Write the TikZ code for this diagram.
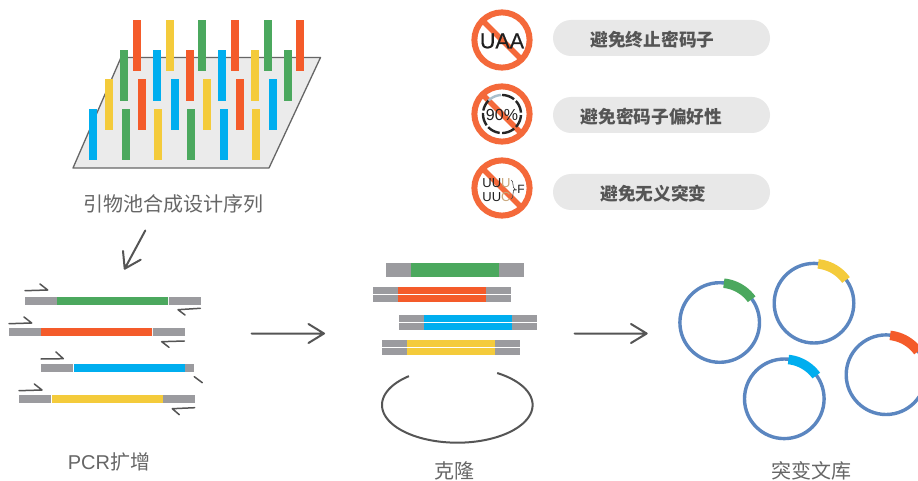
\documentclass[tikz,border=0pt]{standalone}
\usepackage{fontspec}
\setmainfont{Noto Sans CJK SC}
\newfontfamily\latinfont{Liberation Sans}
\newfontfamily\latinheavy[FakeBold=0.4]{Liberation Sans}
\definecolor{cgreen}{HTML}{4BA85E}
\definecolor{corange}{HTML}{F45B2A}
\definecolor{cyellow}{HTML}{F4CB3B}
\definecolor{cblue}{HTML}{00AEEF}
\definecolor{cgrey}{HTML}{9B9B9F}
\definecolor{cring}{HTML}{5B86C0}
\definecolor{cban}{HTML}{F4693A}
\definecolor{cink}{HTML}{555555}
\definecolor{ctan}{HTML}{C9A67A}
\definecolor{cpale}{HTML}{A9BFCC}
\tikzset{
  caption/.style={font=\fontsize{20}{24}\selectfont, text=black!60, inner sep=0pt},
  pilltext/.style={font=\fontsize{17.7}{21}\bfseries\selectfont, text=cink, inner sep=0pt},
  pill/.style={fill=black!9, draw=none, rounded corners=18pt},
  stroke/.style={draw=cink, line width=2pt, line cap=round, line join=round},
  thinstroke/.style={draw=cink, line width=1.5pt, line cap=round, line join=round},
  banring/.style={draw=cban, line width=6pt},
  plasmid/.style={draw=cring, line width=3.4pt},
  insert/.style={line width=9.5pt},
  icontext/.style={text=black!88, inner sep=0pt},
}
% one coloured pillar on the synthesis plate
\newcommand{\pillar}[4]{\fill[#4] (#1,#2) rectangle ++(8,#3);}
% grey-coloured-grey strand: y top, y bottom, x stops, colour
\newcommand{\strand}[7]{%
  \fill[cgrey] (#3,#1) rectangle (#4,#2);
  \fill[#7] (#4,#1) rectangle (#5,#2);
  \fill[cgrey] (#5,#1) rectangle (#6,#2);}
% plasmid ring with its coloured insert
\newcommand{\ringwith}[3]{%
  \draw[plasmid] (#1,#2) circle[radius=39.8pt];
  \draw[insert,draw=#3] plot[domain=84:36,samples=24,smooth] ({#1+39.5*cos(\x)},{#2-39.5*sin(\x)});}
% prohibition sign, laid under its content
\newcommand{\bansign}[2]{%
  \draw[banring] (#1,#2) circle[radius=27.6pt];
  \draw[draw=cban, line width=5.6pt] (#1-19.5,#2-19.5) -- (#1+19.5,#2+19.5);}
\begin{document}
\begin{tikzpicture}[x=1pt,y=-1pt]
\path[use as bounding box] (0,0) rectangle (918,481);
\clip (0,0) rectangle (918,481);
\fill[white] (0,0) rectangle (918,481);

% synthesis plate
\draw[fill=black!8, draw=black!60, line width=1.3pt, line join=round]
  (73,168) -- (269,168) -- (320.5,57.5) -- (121,57.5) -- cycle;
\foreach \px/\pc in {133/corange,166/cyellow,198/cgreen,231/corange,264/cgreen,296/corange}
  {\pillar{\px}{20}{51}{\pc}}
\foreach \px/\pc in {120/cgreen,153/cblue,186/corange,218/cblue,251/cyellow,284/cgreen}
  {\pillar{\px}{50}{51}{\pc}}
\foreach \px/\pc in {105/cyellow,138/corange,171/cblue,203/cyellow,236/corange,269/cblue}
  {\pillar{\px}{79}{51}{\pc}}
\foreach \px/\pc in {89/cblue,122/cgreen,154/cyellow,187/cgreen,220/cblue,252/cyellow}
  {\pillar{\px}{109}{51}{\pc}}
\node[caption] (platecap) at (173.5,203.5) {引物池合成设计序列};

% arrow from the plate down to PCR
\coordinate (a0s) at (145.3,230.5);
\coordinate (a0e) at (124.7,268.7);
\draw[stroke] (a0s) -- (a0e) (123,251) -- (a0e) -- (140.7,259.7);

% design rules
\fill[pill] (553,20) rectangle (770,56);
\fill[pill] (553,97) rectangle (770,133);
\fill[pill] (553,174) rectangle (770,210);
\node[pilltext] (rule1) at (652.5,39.5) {避免终止密码子};
\node[pilltext] (rule2) at (651.5,116.5) {避免密码子偏好性};
\node[pilltext] (rule3) at (653.5,193.5) {避免无义突变};

\bansign{502}{40}
\node[icontext, font=\latinheavy\fontsize{21.5}{24}\selectfont] (uaa) at (502,41) {UAA};

\bansign{502}{114}
\draw[draw=black!85, line width=2.4pt, dash pattern=on 13pt off 2.5pt]
  plot[domain=90:-225,samples=60,smooth] ({502+19*cos(\x)},{114-19*sin(\x)});
\draw[draw=cpale, line width=2.4pt]
  plot[domain=135:93,samples=12,smooth] ({502+19*cos(\x)},{114-19*sin(\x)});
\node[icontext, font=\latinfont\fontsize{16}{18}\selectfont] (pct) at (502,115) {90\%};

\bansign{502}{188}
\node[icontext, font=\latinfont\fontsize{13}{14}\selectfont] (uuu) at (496.5,183) {UU\textcolor{ctan}{U}};
\node[icontext, font=\latinfont\fontsize{13}{14}\selectfont] (uuc) at (496.5,197.5) {UU\textcolor{ctan}{C}};
\draw[draw=black!70, line width=.6pt] (511,180) .. controls (514,180) and (512,189) .. (515,189) .. controls (512,189) and (514,199) .. (511,199);
\node[icontext, font=\latinfont\fontsize{12}{14}\selectfont] (phe) at (519,189) {-F};

% PCR strands
\strand{297}{305}{25}{57}{168}{168}{cgreen}
\fill[cgrey] (169,297) rectangle (201,305);
\strand{328}{336}{9}{41}{152}{152}{corange}
\fill[cgrey] (153,328) rectangle (185,336);
\fill[cgrey] (41,364) rectangle (73,372);
\fill[cblue] (74,364) rectangle (185,372);
\fill[cgrey] (185,364) rectangle (194,372);
\fill[cgrey] (19,395) rectangle (51,403);
\fill[cyellow] (52,395) rectangle (163,403);
\fill[cgrey] (163,395) rectangle (195,403);

% primers
\draw[thinstroke] (25,290.7) -- (47.7,290) -- (40,284);
\draw[thinstroke] (9,323.7) -- (31.7,323) -- (24,317);
\draw[thinstroke] (41,359) -- (63.3,358.7) -- (56,352);
\draw[thinstroke] (19,390.7) -- (42,390) -- (34.3,384);
\draw[thinstroke] (200.3,308.3) -- (178,309.7) -- (185,315);
\draw[thinstroke] (184.3,341) -- (161.7,341.7) -- (169,347.3);
\draw[thinstroke] (194.3,376.7) -- (202.3,382.7);
\draw[thinstroke] (194.7,407.7) -- (172.3,408.7) -- (179.3,414.7);
\node[caption] (pcrcap) at (109,461.5) {{\latinfont PCR}扩增};

% process arrows
\coordinate (a1s) at (251.5,333.5);
\coordinate (a1e) at (324,333.5);
\draw[stroke] (a1s) -- (a1e) (308.5,324) -- (a1e) -- (308.5,343);
\coordinate (a2s) at (574.5,333.5);
\coordinate (a2e) at (646.7,333.5);
\draw[stroke] (a2s) -- (a2e) (631,324) -- (a2e) -- (631,343);

% cloned fragments
\strand{263}{277}{386}{411}{499}{524}{cgreen}
\strand{287}{294}{373}{398}{486}{511}{corange}
\strand{295}{302}{373}{398}{486}{511}{corange}
\strand{315}{322}{399}{424}{512}{537}{cblue}
\strand{323}{330}{399}{424}{512}{537}{cblue}
\strand{340}{347}{382}{407}{495}{520}{cyellow}
\strand{348}{355}{382}{407}{495}{520}{cyellow}
\draw[stroke, line cap=butt]
  plot[domain=130:418,samples=90,smooth] ({457.3+75.3*cos(\x)},{405-37.7*sin(\x)});
\node[caption] (clonecap) at (454,470.5) {克隆};

% mutant library
\ringwith{719.7}{322.5}{cgreen}
\ringwith{814}{303.2}{cyellow}
\ringwith{886}{374.7}{corange}
\ringwith{784.3}{398.8}{cblue}
\node[caption] (libcap) at (811,470.5) {突变文库};
\end{tikzpicture}
\end{document}
